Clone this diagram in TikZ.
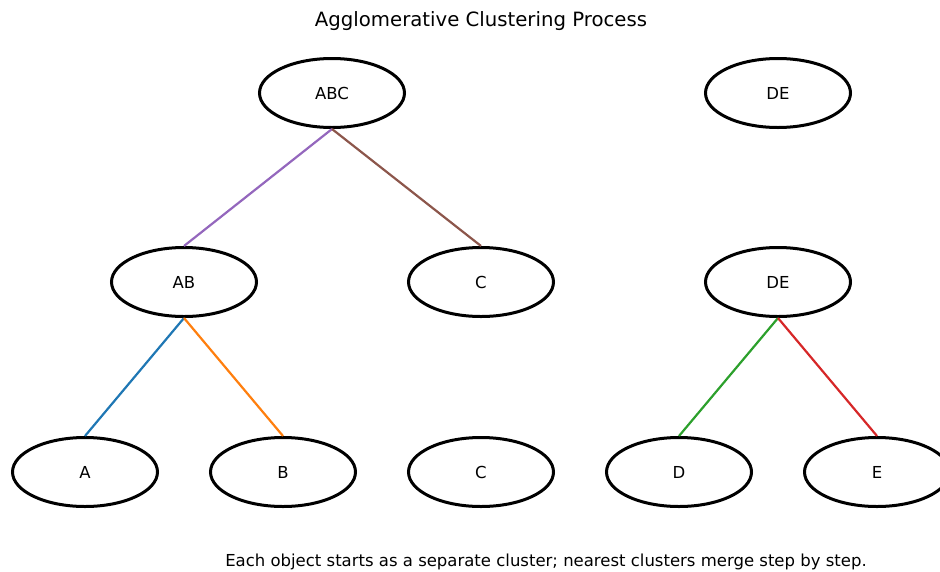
\documentclass[tikz,border=0pt]{standalone}
\usepackage{fontspec}
\setmainfont{DejaVu Sans}
\usetikzlibrary{shapes.geometric}
\definecolor{tblue}{HTML}{1F77B4}
\definecolor{torange}{HTML}{FF7F0E}
\definecolor{tgreen}{HTML}{2CA02C}
\definecolor{tred}{HTML}{D62728}
\definecolor{tpurple}{HTML}{9467BD}
\definecolor{tbrown}{HTML}{8C564B}
\begin{document}
\begin{tikzpicture}[x=1pt,y=-1pt,
  clus/.style={ellipse,draw=black,line width=3pt,fill=white,minimum width=145pt,minimum height=69pt,inner sep=0pt,font=\fontsize{16.5}{19}\selectfont},
  link/.style={line width=2.2pt}]
\useasboundingbox (0,0) rectangle (940,571);
\node (abc) [clus] at (332,93) {ABC};
\node (de2) [clus] at (778,93) {DE};
\node (ab) [clus] at (184,282) {AB};
\node (c1) [clus] at (481,282) {C};
\node (de1) [clus] at (778,282) {DE};
\node (a) [clus] at (85,472) {A};
\node (b) [clus] at (283,472) {B};
\node (c0) [clus] at (481,472) {C};
\node (d) [clus] at (679,472) {D};
\node (e) [clus] at (877,472) {E};
\draw[link,tpurple] (abc.south) -- (ab.north);
\draw[link,tbrown] (abc.south) -- (c1.north);
\draw[link,tblue] (ab.south) -- (a.north);
\draw[link,torange] (ab.south) -- (b.north);
\draw[link,tgreen] (de1.south) -- (d.north);
\draw[link,tred] (de1.south) -- (e.north);
\node (title) at (481,21) {\fontsize{19.7}{23}\selectfont Agglomerative Clustering Process};
\node (cap) at (546,562) {\fontsize{16.5}{19}\selectfont Each object starts as a separate cluster; nearest clusters merge step by step.};
\end{tikzpicture}
\end{document}
